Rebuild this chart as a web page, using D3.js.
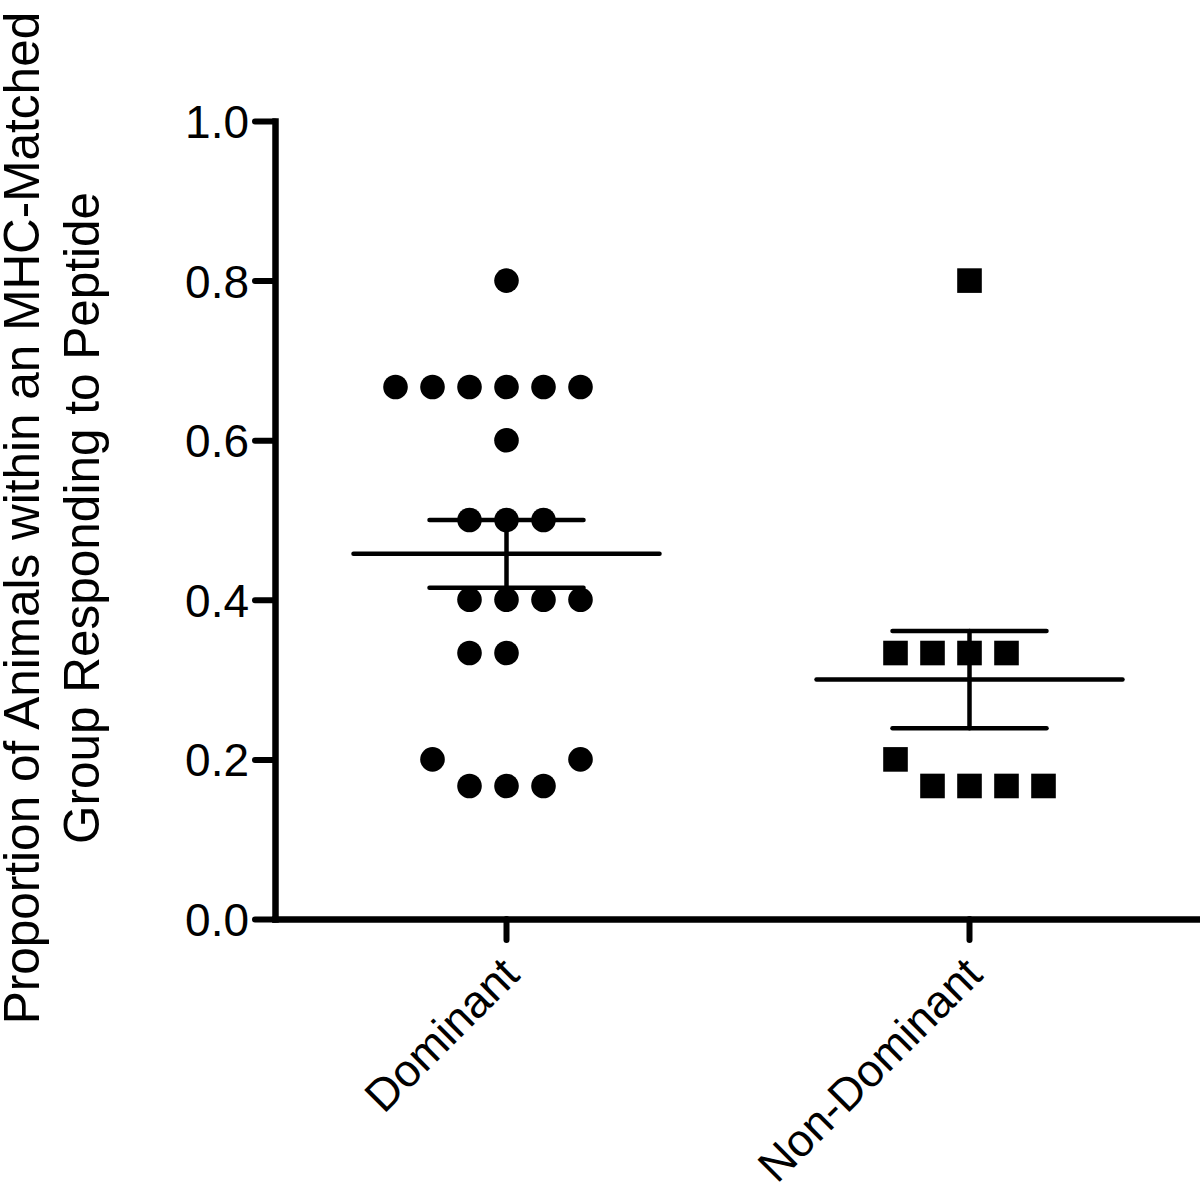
<!DOCTYPE html>
<html>
<head>
<meta charset="utf-8">
<script src="https://cdn.jsdelivr.net/npm/d3@7"></script>
<style>
  html, body { margin: 0; padding: 0; background: #fff; }
  svg { display: block; }
  text { font-family: "Liberation Sans", Arial, sans-serif; fill: #000; }
</style>
</head>
<body>
<svg id="chart" width="1200" height="1187"></svg>
<script>
// ---------- data ----------
const categories = ["Dominant", "Non-Dominant"];
const dominantValues = [0.8,
  0.6667, 0.6667, 0.6667, 0.6667, 0.6667, 0.6667,
  0.6,
  0.5, 0.5, 0.5,
  0.4, 0.4, 0.4, 0.4,
  0.3333, 0.3333,
  0.2, 0.2,
  0.1667, 0.1667, 0.1667];
// jitter column of each point (in marker-spacing units, 0 = category centre)
const dominantColumns = [0,
  -3, -2, -1, 0, 1, 2,
  0,
  -1, 0, 1,
  -1, 0, 1, 2,
  -1, 0,
  -2, 2,
  -1, 0, 1];
const nonDominantValues = [0.8,
  0.3333, 0.3333, 0.3333, 0.3333,
  0.2,
  0.1667, 0.1667, 0.1667, 0.1667];
const nonDominantColumns = [0,
  -2, -1, 0, 1,
  -2,
  -1, 0, 1, 2];
const yTicks = [0.0, 0.2, 0.4, 0.6, 0.8, 1.0];
const yTitleLines = ["Proportion of Animals within an MHC-Matched", "Group Responding to Peptide"];

// ---------- layout ----------
const svg = d3.select("#chart");
const x = d3.scaleBand().domain(categories).range([275, 1201]).padding(0);
const y = d3.scaleLinear().domain([0, 1]).range([919, 121]);
const col = d3.scaleLinear().domain([0, 1]).range([0, 37]);

const groups = [
  { name: categories[0], values: dominantValues, cols: dominantColumns, shape: "circle" },
  { name: categories[1], values: nonDominantValues, cols: nonDominantColumns, shape: "square" }
];

// ---------- points ----------
const R = 12.3, S = 24.6;
groups.forEach(g => {
  const cx = x(g.name) + x.bandwidth() / 2;
  const pts = g.values.map((v, i) => ({ v, c: g.cols[i] }));
  if (g.shape === "circle") {
    svg.append("g").selectAll("circle").data(pts).join("circle")
      .attr("cx", d => cx + col(d.c))
      .attr("cy", d => y(d.v))
      .attr("r", R)
      .attr("fill", "#000");
  } else {
    svg.append("g").selectAll("rect").data(pts).join("rect")
      .attr("x", d => cx + col(d.c) - S / 2)
      .attr("y", d => y(d.v) - S / 2)
      .attr("width", S).attr("height", S)
      .attr("fill", "#000");
  }
});

// ---------- mean +/- SEM ----------
groups.forEach(g => {
  const cx = x(g.name) + x.bandwidth() / 2;
  const m = d3.mean(g.values);
  const sem = d3.deviation(g.values) / Math.sqrt(g.values.length);
  const gg = svg.append("g").attr("stroke", "#000").attr("stroke-width", 4.5).attr("stroke-linecap", "round");
  gg.append("line").attr("x1", cx - 153).attr("x2", cx + 153).attr("y1", y(m)).attr("y2", y(m));
  gg.append("line").attr("x1", cx).attr("x2", cx).attr("y1", y(m + sem)).attr("y2", y(m - sem));
  gg.append("line").attr("x1", cx - 77).attr("x2", cx + 77).attr("y1", y(m + sem)).attr("y2", y(m + sem));
  gg.append("line").attr("x1", cx - 77).attr("x2", cx + 77).attr("y1", y(m - sem)).attr("y2", y(m - sem));
});

// ---------- axes ----------
const yAxis = svg.append("g").attr("transform", "translate(275,0)")
  .call(d3.axisLeft(y).tickValues(yTicks).tickFormat(d3.format(".1f")).tickSize(20).tickSizeOuter(0).tickPadding(6));
yAxis.select(".domain").attr("stroke-width", 6.5).attr("stroke-linecap", "square");
yAxis.selectAll(".tick line").attr("stroke-width", 6).attr("stroke-linecap", "round");
yAxis.selectAll(".tick text").attr("font-size", 46).attr("font-family", "'Liberation Sans', Arial, sans-serif").attr("dy", "0.36em");

const xAxis = svg.append("g").attr("transform", "translate(0,919)")
  .call(d3.axisBottom(x).tickSize(21).tickSizeOuter(0).tickPadding(0));
xAxis.select(".domain").attr("stroke-width", 6.5).attr("stroke-linecap", "square");
xAxis.selectAll(".tick line").attr("stroke-width", 6).attr("stroke-linecap", "round");
xAxis.selectAll(".tick text")
  .attr("font-size", 45.5)
  .attr("font-family", "'Liberation Sans', Arial, sans-serif")
  .attr("text-anchor", "end")
  .attr("dy", 0)
  .attr("x", 0).attr("y", 0)
  .attr("transform", "translate(15,58) rotate(-45)");
svg.selectAll(".domain, .tick line").attr("stroke", "#000");

// ---------- y title ----------
const title = svg.append("text")
  .attr("transform", "translate(0,518) rotate(-90)")
  .attr("text-anchor", "middle")
  .attr("font-size", 49.5);
yTitleLines.forEach((t, i) => {
  title.append("tspan").attr("x", 0).attr("y", 39 + i * 60).text(t);
});
</script>
</body>
</html>
